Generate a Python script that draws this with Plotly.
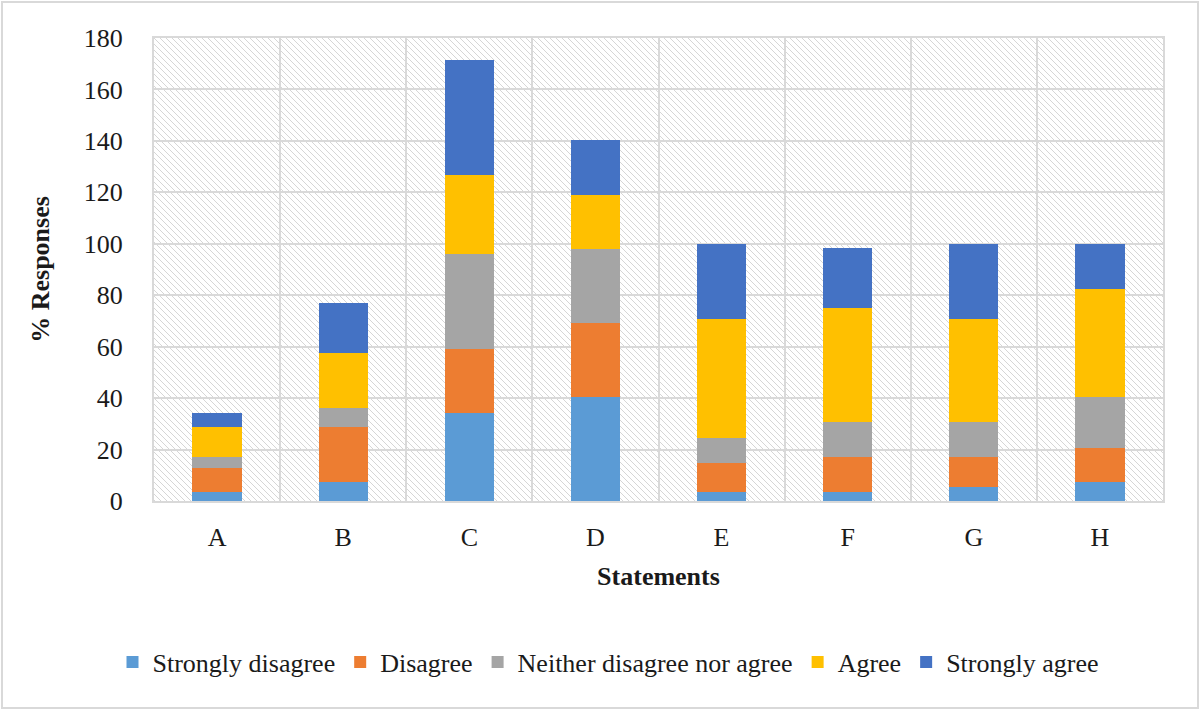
import base64
import plotly.graph_objects as go

# statements on the x axis
statements = ["A", "B", "C", "D", "E", "F", "G", "H"]

# % responses per answer category
strongly_disagree = [3.6, 7.3, 34.1, 40.3, 3.6, 3.6, 5.4, 7.3]
disagree = [9.4, 21.3, 25.0, 28.8, 11.1, 13.5, 11.7, 13.4]
neither = [4.2, 7.4, 36.9, 28.8, 9.7, 13.5, 13.5, 19.6]
agree = [11.4, 21.4, 30.9, 21.2, 46.4, 44.6, 40.2, 42.1]
strongly_agree = [5.5, 19.5, 44.6, 21.3, 29.2, 23.0, 29.2, 17.6]

series = [
    ("Strongly disagree", strongly_disagree, "#5B9BD5"),
    ("Disagree", disagree, "#ED7D31"),
    ("Neither disagree nor agree", neither, "#A5A5A5"),
    ("Agree", agree, "#FFC000"),
    ("Strongly agree", strongly_agree, "#4472C4"),
]

W, H = 1200, 710
L, R, T, B = 154, 37, 38, 209
PW, PH = W - L - R, H - T - B
FONT = "Liberation Serif, DejaVu Serif, serif"
GRID = "#D9D9D9"
FS = 26

# hatched plot background (excel style pattern fill)
svg = (
    f'<svg xmlns="http://www.w3.org/2000/svg" width="{PW}" height="{PH}" '
    f'viewBox="0 0 {PW} {PH}" preserveAspectRatio="none">'
    '<defs><pattern id="h" width="6" height="6" patternUnits="userSpaceOnUse">'
    '<path d="M0,0 L6,6 M-1,5 L1,7 M5,-1 L7,1" stroke="#D6D6D6" stroke-width="1"/>'
    '</pattern></defs>'
    f'<rect width="{PW}" height="{PH}" fill="white"/>'
    f'<rect width="{PW}" height="{PH}" fill="url(#h)"/></svg>'
)
hatch = "data:image/svg+xml;base64," + base64.b64encode(svg.encode()).decode()

fig = go.Figure()
for name, vals, col in series:
    fig.add_trace(go.Bar(x=statements, y=vals, name=name, marker_color=col,
                         marker_line_width=0))

fig.update_layout(
    width=W, height=H,
    barmode="stack", bargap=0.61,
    margin=dict(l=L, r=R, t=T, b=B),
    paper_bgcolor="white", plot_bgcolor="rgba(0,0,0,0)",
    font=dict(family=FONT, size=FS, color="#1a1a1a"),
    legend=dict(orientation="h", x=(608 - L) / PW, xanchor="center",
                y=(T + PH - 662) / PH, yanchor="middle",
                font=dict(size=FS), itemwidth=30, traceorder="normal"),
    images=[dict(source=hatch, xref="x domain", yref="y domain", x=0, y=1,
                 sizex=1, sizey=1, sizing="stretch", layer="below")],
    shapes=[dict(type="rect", xref="paper", yref="paper",
                 x0=-(L - 2) / PW, x1=1 + (R - 2) / PW,
                 y0=-(B - 2) / PH, y1=1 + (T - 2) / PH,
                 line=dict(color=GRID, width=2), layer="below")],
)

fig.update_xaxes(
    type="category", tickson="boundaries", showgrid=True, gridcolor=GRID,
    gridwidth=2, showline=True, mirror=True, linecolor=GRID, linewidth=2,
    ticks="", ticklabelstandoff=12,
    title=dict(text="<b>Statements</b>", standoff=16, font=dict(size=FS)),
)
fig.update_yaxes(
    range=[0, 180], dtick=20, showgrid=True, gridcolor=GRID, gridwidth=2,
    showline=True, mirror=True, linecolor=GRID, linewidth=2, zeroline=False,
    ticks="", ticklabelstandoff=24,
    title=dict(text="<b>% Responses</b>", standoff=27, font=dict(size=FS)),
)

# page has a default body margin; drop it so the chart fills the window
fig.write_html("out.html", config={"displayModeBar": False},
               post_script="document.body.style.margin='0';")
